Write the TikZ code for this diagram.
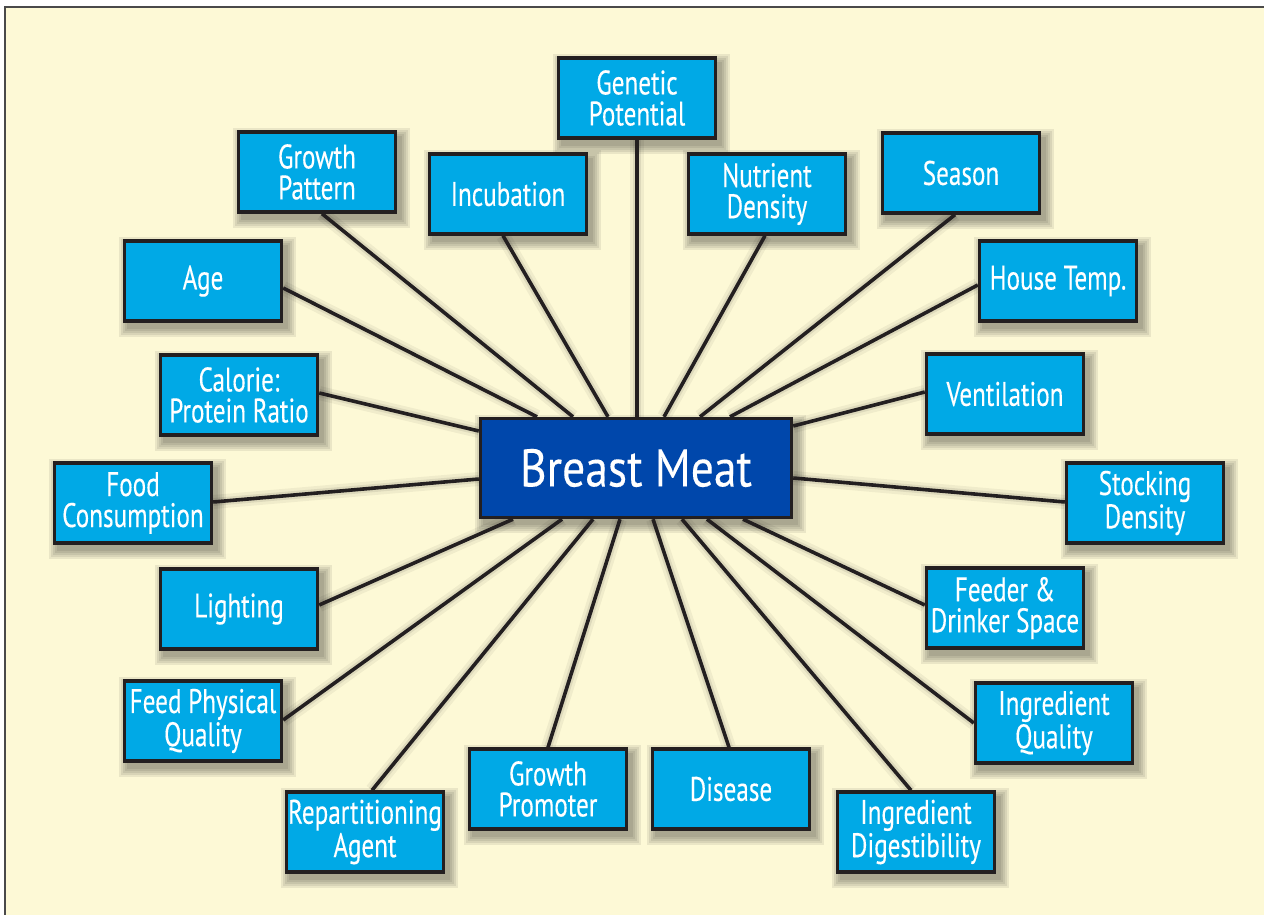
\documentclass[tikz,border=0pt]{standalone}
\usepackage{fontspec}
\setmainfont[FakeStretch=0.74,FakeBold=0.25]{PT Sans}
\newfontfamily\bmfont[FakeStretch=0.86,FakeBold=0.2]{PT Sans}
\usetikzlibrary{calc}
\definecolor{cream}{HTML}{FDF9D6}
\definecolor{cyanbox}{HTML}{00A9E6}
\definecolor{navybox}{HTML}{0047AB}
\definecolor{edge}{HTML}{231F20}
\definecolor{frame}{HTML}{4A4A4A}
\tikzset{
  slot/.style={draw=none, fill=none, minimum width=78.5pt, minimum height=40pt,
    inner sep=0pt, outer sep=0.85pt},
  hubslot/.style={draw=none, fill=none, minimum width=155.5pt, minimum height=49.5pt,
    inner sep=0pt, outer sep=0.85pt},
  factor/.style={draw=edge, fill=cyanbox, line width=1.7pt, text=white,
    minimum width=78.5pt, minimum height=40pt, align=center, inner sep=0pt,
    font=\fontsize{17}{15.5}\selectfont},
  hub/.style={draw=edge, fill=navybox, line width=1.7pt, text=white,
    minimum width=155.5pt, minimum height=49.5pt, inner sep=0pt,
    font=\bmfont\fontsize{26.5}{28}\selectfont},
  spoke/.style={draw=edge, line width=1.8pt},
  spokeshadeA/.style={draw=black, line width=7pt, opacity=0.05, shift={(3,4)}},
  spokeshadeB/.style={draw=black, line width=4pt, opacity=0.08, shift={(2,3)}},
  boxshade/.style={fill=black, opacity=0.075}
}
\begin{document}
\begin{tikzpicture}[x=0.5pt,y=-0.5pt]
\useasboundingbox (0,0) rectangle (1264,915);
\fill[white] (0,0) rectangle (1264,915);
\fill[cream] (5,7) rectangle (1264,915);
\draw[frame, line width=0.8pt] (5,915) -- (5,7) -- (1264,7);

% placement slots (named), drawn over later by the visible boxes
\node[hubslot] (bm) at (636,468) {};
\node[slot] (gen)  at (637,98)  {};
\node[slot] (gp)   at (317,172) {};
\node[slot] (age)  at (203,281) {};
\node[slot] (inc)  at (508,194) {};
\node[slot] (nut)  at (767,194) {};
\node[slot] (sea)  at (961,173) {};
\node[slot] (ht)   at (1058,281) {};
\node[slot] (cal)  at (239,395) {};
\node[slot] (ven)  at (1005,394) {};
\node[slot] (food) at (133,503) {};
\node[slot] (stock) at (1145,503) {};
\node[slot] (light) at (239,609) {};
\node[slot] (feed) at (1005,608) {};
\node[slot] (fpq)  at (203,721) {};
\node[slot] (iq)   at (1054,723) {};
\node[slot] (rep)  at (365,832) {};
\node[slot] (gpro) at (548,789) {};
\node[slot] (dis)  at (731,789) {};
\node[slot] (id)   at (916,832) {};

% soft box shadows
\foreach \n in {bm,gen,gp,age,inc,nut,sea,ht,cal,ven,food,stock,light,feed,fpq,iq,rep,gpro,dis,id}{
  \foreach \k in {0,2,4,6,8}{
    \fill[boxshade] ($(\n.north west)+(4-\k,6-\k)$) rectangle ($(\n.south east)+(5+\k,6+\k)$);
  }
}

% connectors
\foreach \shd in {spokeshadeA,spokeshadeB,spoke}{
  \draw[\shd] (gen.south) -- ($(bm.north)+(1,0)$);
  \draw[\shd] ($(gp.south)+(5,0)$) -- ($(bm.north)+(-63,0)$);
  \draw[\shd] ($(age.east)+(0,7)$) -- ($(bm.north)+(-99,0)$);
  \draw[\shd] ($(inc.south)+(-5,0)$) -- ($(bm.north)+(-28,0)$);
  \draw[\shd] ($(nut.south)+(-2,0)$) -- ($(bm.north)+(28,0)$);
  \draw[\shd] ($(sea.south)+(-6,0)$) -- ($(bm.north)+(64,0)$);
  \draw[\shd] ($(ht.west)+(0,4)$) -- ($(bm.north)+(94,0)$);
  \draw[\shd] ($(cal.east)+(0,-2)$) -- ($(bm.west)+(0,-37)$);
  \draw[\shd] ($(ven.west)+(0,-2)$) -- ($(bm.east)+(0,-42)$);
  \draw[\shd] ($(food.east)+(0,-1)$) -- ($(bm.west)+(0,11)$);
  \draw[\shd] ($(stock.west)+(0,-1)$) -- ($(bm.east)+(0,10)$);
  \draw[\shd] ($(light.east)+(0,-4)$) -- ($(bm.south)+(-123,0)$);
  \draw[\shd] ($(feed.west)+(0,-3)$) -- ($(bm.south)+(107,0)$);
  \draw[\shd] ($(fpq.east)+(0,-1)$) -- ($(bm.south)+(-74,0)$);
  \draw[\shd] (iq.west) -- ($(bm.south)+(71,0)$);
  \draw[\shd] ($(rep.north)+(7,0)$) -- ($(bm.south)+(-43,0)$);
  \draw[\shd] (gpro.north) -- ($(bm.south)+(-16,0)$);
  \draw[\shd] ($(dis.north)+(-2,0)$) -- ($(bm.south)+(17,0)$);
  \draw[\shd] ($(id.north)+(-5,0)$) -- ($(bm.south)+(46,0)$);
}

% visible boxes
\node[hub] (bmT) at (bm) {Breast Meat};
\node[factor] (genT)  at (gen)  {Genetic\\Potential};
\node[factor] (gpT)   at (gp)   {Growth\\Pattern};
\node[factor] (ageT)  at (age)  {Age};
\node[factor] (incT)  at (inc)  {Incubation};
\node[factor] (nutT)  at (nut)  {Nutrient\\Density};
\node[factor] (seaT)  at (sea)  {Season};
\node[factor] (htT)   at (ht)   {House Temp.};
\node[factor] (calT)  at (cal)  {Calorie:\\Protein Ratio};
\node[factor] (venT)  at (ven)  {Ventilation};
\node[factor] (foodT) at (food) {Food\\Consumption};
\node[factor] (stockT) at (stock) {Stocking\\Density};
\node[factor] (lightT) at (light) {Lighting};
\node[factor] (feedT) at (feed) {Feeder \&\\Drinker Space};
\node[factor] (fpqT)  at (fpq)  {Feed Physical\\Quality};
\node[factor] (iqT)   at (iq)   {Ingredient\\Quality};
\node[factor] (repT)  at (rep)  {Repartitioning\\Agent};
\node[factor] (gproT) at (gpro) {Growth\\Promoter};
\node[factor] (disT)  at (dis)  {Disease};
\node[factor] (idT)   at (id)   {Ingredient\\Digestibility};
\end{tikzpicture}
\end{document}
